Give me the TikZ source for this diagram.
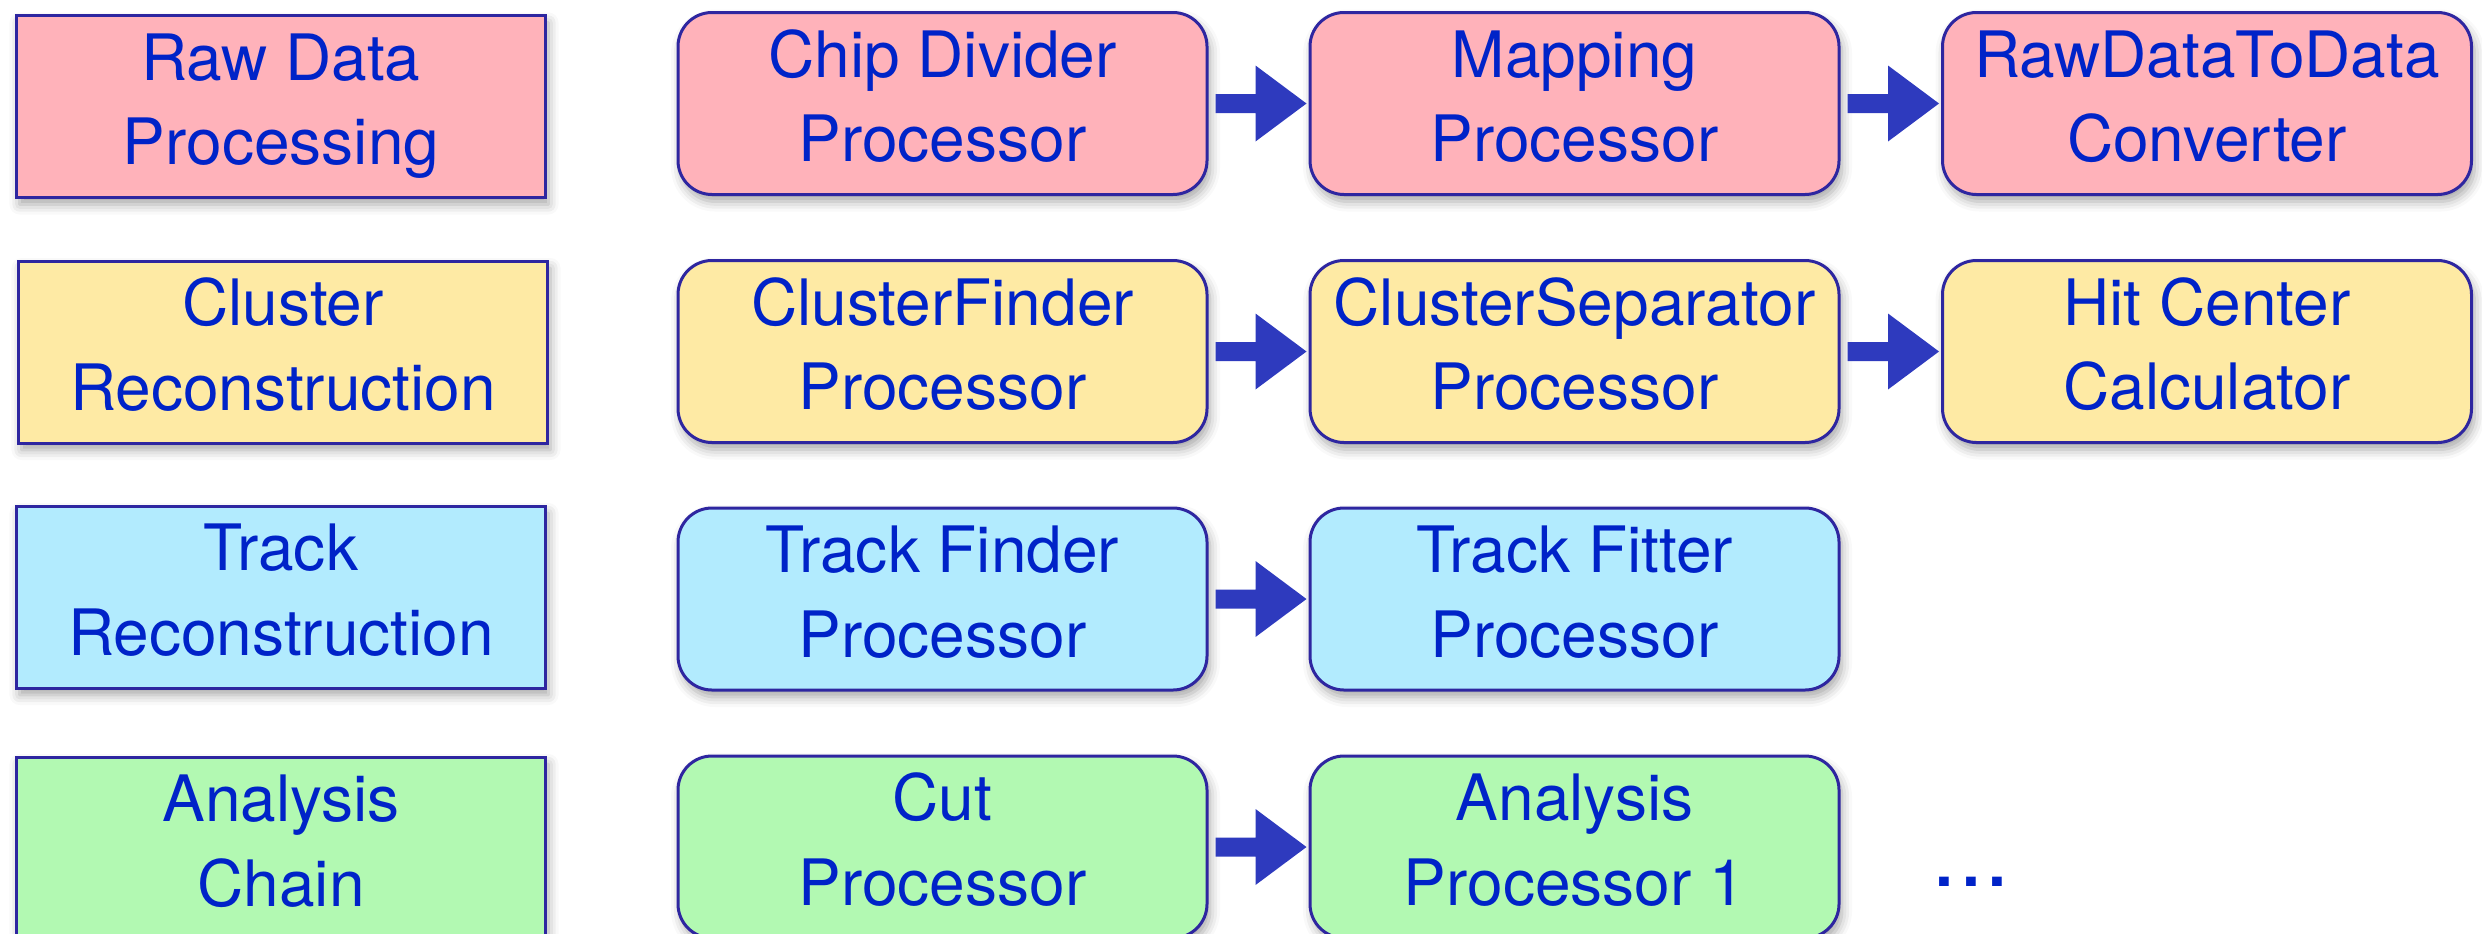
\documentclass[tikz,border=0pt]{standalone}
\usepackage{fontspec}
\setmainfont{TeX Gyre Heros}
\usetikzlibrary{calc,shadows.blur}
\definecolor{pinkc}{RGB}{255,178,186}
\definecolor{yellowc}{RGB}{254,234,164}
\definecolor{bluec}{RGB}{178,235,254}
\definecolor{greenc}{RGB}{178,249,178}
\definecolor{edgec}{RGB}{46,38,160}
\definecolor{textc}{RGB}{0,35,200}
\definecolor{arrowc}{RGB}{46,58,190}
\newcommand\hTop{\rule{0pt}{24pt}}
\newcommand\hBot{\rule[-8pt]{0pt}{8pt}}
\newcommand\flowarrow[2]{%
  \fill[arrowc] ($(#1.east)+(3.5pt,4.75pt)$) -- ($(#2.west)+(-26.5pt,4.75pt)$)
    -- ($(#2.west)+(-26.5pt,19pt)$) -- ($(#2.west)+(-1pt,0pt)$)
    -- ($(#2.west)+(-26.5pt,-19pt)$) -- ($(#2.west)+(-26.5pt,-4.75pt)$)
    -- ($(#1.east)+(3.5pt,-4.75pt)$) -- cycle;}
\begin{document}
\begin{tikzpicture}[x=0.5pt,y=-0.5pt,
  base/.style={draw=edgec, line width=1.5pt, text=textc,
    font=\fontsize{32pt}{42.3pt}\selectfont, align=center, inner sep=0pt,
    minimum width=264.5pt, minimum height=91pt,
    blur shadow={shadow xshift=1.5pt, shadow yshift=-3.5pt, shadow blur radius=5pt, shadow opacity=35}},
  stage/.style={base, rectangle},
  proc/.style={base, rounded corners=17pt},
  dotsstyle/.style={text=textc, font=\fontsize{32pt}{42.3pt}\selectfont\bfseries, inner sep=0pt}]
\useasboundingbox (0,0) rectangle (2482,933);

% left column
\node[stage, fill=pinkc]   (s1) at (281,106.5) {\hTop Raw Data\\Processing\hBot};
\node[stage, fill=yellowc] (s2) at (283,352) {\hTop Cluster\\Reconstruction\hBot};
\node[stage, fill=bluec]   (s3) at (281,597) {\hTop Track\\Reconstruction\hBot};
\node[stage, fill=greenc]  (s4) at (281,848) {\hTop Analysis\\Chain\hBot};

% row 1
\node[proc, fill=pinkc] (a1) at (942.5,103.5) {\hTop Chip Divider\\Processor\hBot};
\node[proc, fill=pinkc] (a2) at (1574.5,103.5) {\hTop Mapping\\Processor\hBot};
\node[proc, fill=pinkc] (a3) at (2207,103.5) {\hTop RawDataToData\\Converter\hBot};
% row 2
\node[proc, fill=yellowc] (b1) at (942.5,351.5) {\hTop ClusterFinder\\Processor\hBot};
\node[proc, fill=yellowc] (b2) at (1574.5,351.5) {\hTop ClusterSeparator\\Processor\hBot};
\node[proc, fill=yellowc] (b3) at (2207,351.5) {\hTop Hit Center\\Calculator\hBot};
% row 3
\node[proc, fill=bluec] (c1) at (942.5,599) {\hTop Track Finder\\Processor\hBot};
\node[proc, fill=bluec] (c2) at (1574.5,599) {\hTop Track Fitter\\Processor\hBot};
% row 4
\node[proc, fill=greenc] (d1) at (942.5,847) {\hTop Cut\\Processor\hBot};
\node[proc, fill=greenc] (d2) at (1574.5,847) {\hTop Analysis\\Processor 1\hBot};
\node[dotsstyle, anchor=base] (dots) at (1971,886) {.\kern4.5pt.\kern4.5pt.};

% arrows
\flowarrow{a1}{a2}
\flowarrow{a2}{a3}
\flowarrow{b1}{b2}
\flowarrow{b2}{b3}
\flowarrow{c1}{c2}
\flowarrow{d1}{d2}
\end{tikzpicture}
\end{document}
